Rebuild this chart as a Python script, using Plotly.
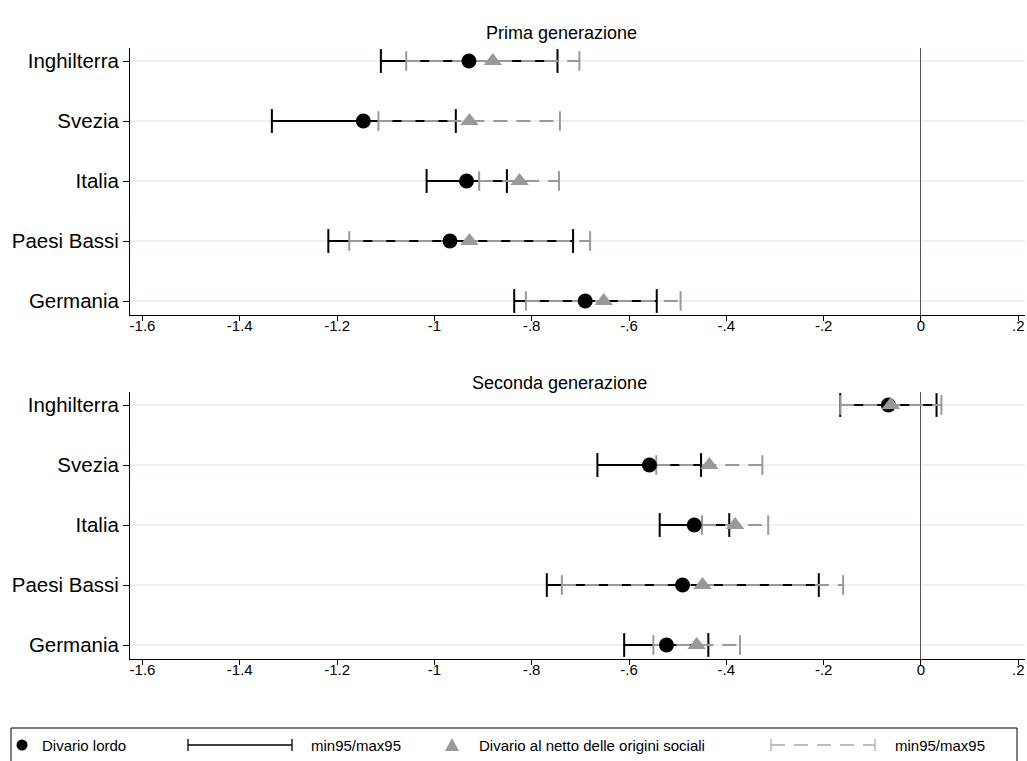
import plotly.graph_objects as go

# Paesi e stime (divario e intervalli di confidenza al 95%)
countries = ["Inghilterra", "Svezia", "Italia", "Paesi Bassi", "Germania"]

# Prima generazione
g1_lordo = [-0.929, -1.146, -0.934, -0.968, -0.690]
g1_lordo_lo = [-1.110, -1.334, -1.016, -1.218, -0.836]
g1_lordo_hi = [-0.747, -0.956, -0.851, -0.715, -0.543]
g1_netto = [-0.880, -0.928, -0.825, -0.928, -0.652]
g1_netto_lo = [-1.058, -1.115, -0.908, -1.175, -0.812]
g1_netto_hi = [-0.702, -0.742, -0.744, -0.680, -0.494]

# Seconda generazione
g2_lordo = [-0.067, -0.558, -0.466, -0.490, -0.523]
g2_lordo_lo = [-0.166, -0.665, -0.537, -0.769, -0.610]
g2_lordo_hi = [0.032, -0.452, -0.394, -0.210, -0.437]
g2_netto = [-0.062, -0.435, -0.382, -0.449, -0.461]
g2_netto_lo = [-0.166, -0.544, -0.450, -0.738, -0.550]
g2_netto_hi = [0.042, -0.326, -0.314, -0.160, -0.372]

x_tickvals = [-1.6, -1.4, -1.2, -1.0, -0.8, -0.6, -0.4, -0.2, 0.0, 0.2]
x_ticktext = ["-1.6", "-1.4", "-1.2", "-1", "-.8", "-.6", "-.4", "-.2", "0", ".2"]

BLACK = "#000000"
GRAY = "#999999"
FONT = "Liberation Sans"

W, H = 1027, 761
ML, MR, MT, MB = 130, 2, 48, 102
PW, PH = W - ML - MR, H - MT - MB


def px_x(p):
    return (p - ML) / PW


def px_y(p):
    return (H - MB - p) / PH


fig = go.Figure()


def segments(lo, hi):
    xs, ys = [], []
    for a, b, c in zip(lo, hi, countries):
        xs += [a, b, None]
        ys += [c, c, None]
    return xs, ys


def add_panel(xa, ya, lordo, l_lo, l_hi, netto, n_lo, n_hi):
    # intervallo del divario lordo (linea continua nera con estremi)
    xs, ys = segments(l_lo, l_hi)
    fig.add_trace(go.Scatter(x=xs, y=ys, mode="lines", xaxis=xa, yaxis=ya,
                             line=dict(color=BLACK, width=2), showlegend=False,
                             hoverinfo="skip"))
    fig.add_trace(go.Scatter(x=l_lo + l_hi, y=countries + countries, mode="markers",
                             xaxis=xa, yaxis=ya, showlegend=False, hoverinfo="skip",
                             marker=dict(symbol="line-ns", size=17,
                                         line=dict(color=BLACK, width=2))))
    # intervallo del divario netto (linea tratteggiata grigia)
    xs, ys = segments(n_lo, n_hi)
    fig.add_trace(go.Scatter(x=xs, y=ys, mode="lines", xaxis=xa, yaxis=ya,
                             line=dict(color=GRAY, width=2, dash="14px,9px"),
                             showlegend=False, hoverinfo="skip"))
    fig.add_trace(go.Scatter(x=n_lo + n_hi, y=countries + countries, mode="markers",
                             xaxis=xa, yaxis=ya, showlegend=False, hoverinfo="skip",
                             marker=dict(symbol="line-ns", size=14,
                                         line=dict(color=GRAY, width=2))))
    # stime puntuali
    fig.add_trace(go.Scatter(x=lordo, y=countries, mode="markers", xaxis=xa, yaxis=ya,
                             showlegend=False,
                             marker=dict(symbol="circle", size=15, color=BLACK,
                                         line=dict(width=0))))
    fig.add_trace(go.Scatter(x=netto, y=countries, mode="markers", xaxis=xa, yaxis=ya,
                             showlegend=False,
                             marker=dict(symbol="triangle-up", size=16, color=GRAY,
                                         line=dict(width=0))))


add_panel("x", "y", g1_lordo, g1_lordo_lo, g1_lordo_hi, g1_netto, g1_netto_lo, g1_netto_hi)
add_panel("x2", "y2", g2_lordo, g2_lordo_lo, g2_lordo_hi, g2_netto, g2_netto_lo, g2_netto_hi)

xaxis_style = dict(
    range=[-1.6256, 0.2138], tickvals=x_tickvals, ticktext=x_ticktext,
    showline=True, linecolor=BLACK, linewidth=1, ticks="outside", ticklen=5,
    tickcolor=BLACK, tickwidth=1, showgrid=False, ticklabelstandoff=-8,
    zeroline=True, zerolinecolor="#555555", zerolinewidth=1,
    tickfont=dict(family=FONT, size=15, color=BLACK),
)
yaxis_style = dict(
    type="category", categoryorder="array", categoryarray=countries,
    range=[4.233, -0.217], showline=True, linecolor=BLACK, linewidth=1,
    ticks="outside", ticklen=6, tickcolor=BLACK, tickwidth=1,
    showgrid=True, gridcolor="#eaf2f3", gridwidth=2, zeroline=False,
    tickfont=dict(family=FONT, size=20.5, color=BLACK),
)

top_lo, top_hi = px_y(315), px_y(48)
bot_lo, bot_hi = px_y(659), px_y(392)

fig.update_layout(
    width=W, height=H,
    margin=dict(l=ML, r=MR, t=MT, b=MB),
    paper_bgcolor="white", plot_bgcolor="white",
    showlegend=False,
    xaxis=dict(domain=[0, 1], anchor="y", **xaxis_style),
    yaxis=dict(domain=[top_lo, top_hi], anchor="x", **yaxis_style),
    xaxis2=dict(domain=[0, 1], anchor="y2", **xaxis_style),
    yaxis2=dict(domain=[bot_lo, bot_hi], anchor="x2", **yaxis_style),
    font=dict(family=FONT, color=BLACK),
)

annotations = [
    dict(text="Prima generazione", x=px_x(561), y=px_y(33), xref="paper", yref="paper",
         showarrow=False, xanchor="center", yanchor="middle",
         font=dict(family=FONT, size=18, color=BLACK)),
    dict(text="Seconda generazione", x=px_x(559), y=px_y(383), xref="paper", yref="paper",
         showarrow=False, xanchor="center", yanchor="middle",
         font=dict(family=FONT, size=18, color=BLACK)),
]

# Legenda disegnata in basso
leg_y = px_y(745)
shapes = [
    dict(type="rect", xref="paper", yref="paper", x0=px_x(11), x1=px_x(1017),
         y0=px_y(790), y1=px_y(728), line=dict(color=BLACK, width=1),
         fillcolor="rgba(0,0,0,0)"),
    dict(type="circle", xref="paper", yref="paper", xsizemode="pixel", ysizemode="pixel",
         xanchor=px_x(22), yanchor=leg_y, x0=-5.5, x1=5.5, y0=-5.5, y1=5.5,
         fillcolor=BLACK, line=dict(width=0)),
    dict(type="line", xref="paper", yref="paper", x0=px_x(188), x1=px_x(292),
         y0=leg_y, y1=leg_y, line=dict(color=BLACK, width=1.3)),
    dict(type="line", xref="paper", yref="paper", x0=px_x(188), x1=px_x(188),
         y0=px_y(739), y1=px_y(751), line=dict(color=BLACK, width=1.3)),
    dict(type="line", xref="paper", yref="paper", x0=px_x(292), x1=px_x(292),
         y0=px_y(739), y1=px_y(751), line=dict(color=BLACK, width=1.3)),
    dict(type="path", xref="paper", yref="paper", xsizemode="pixel", ysizemode="pixel",
         xanchor=px_x(452), yanchor=leg_y, path="M -7 -6 L 7 -6 L 0 7 Z",
         fillcolor=GRAY, line=dict(width=0)),
    dict(type="line", xref="paper", yref="paper", x0=px_x(771), x1=px_x(875),
         y0=leg_y, y1=leg_y, line=dict(color="#aaaaaa", width=1.3, dash="14px,9px")),
    dict(type="line", xref="paper", yref="paper", x0=px_x(771), x1=px_x(771),
         y0=px_y(739), y1=px_y(751), line=dict(color="#aaaaaa", width=1.3)),
    dict(type="line", xref="paper", yref="paper", x0=px_x(875), x1=px_x(875),
         y0=px_y(739), y1=px_y(751), line=dict(color="#aaaaaa", width=1.3)),
]

legend_texts = [
    ("Divario lordo", 40),
    ("min95/max95", 309),
    ("Divario al netto delle origini sociali", 477),
    ("min95/max95", 893),
]
for txt, xp in legend_texts:
    annotations.append(dict(text=txt, x=px_x(xp), y=leg_y, xref="paper", yref="paper",
                            showarrow=False, xanchor="left", yanchor="middle",
                            font=dict(family=FONT, size=15, color=BLACK)))

fig.update_layout(annotations=annotations, shapes=shapes)

fig.write_html("out.html")
